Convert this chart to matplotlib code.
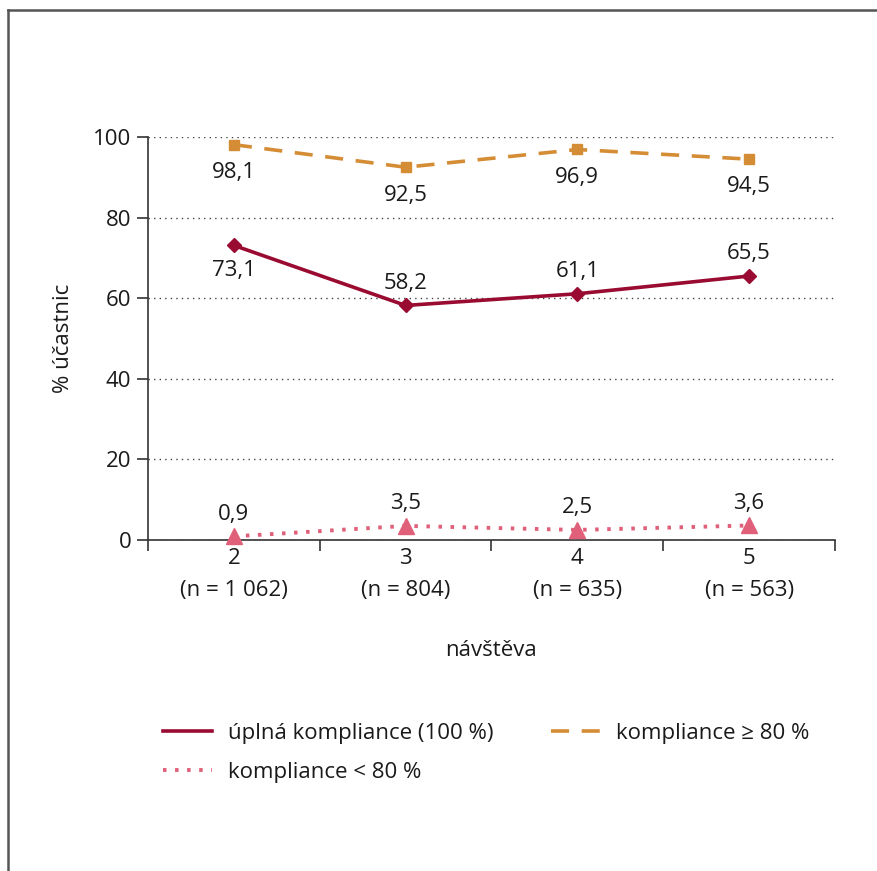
import matplotlib
matplotlib.use("Agg")
import matplotlib.pyplot as plt
from matplotlib.lines import Line2D

plt.rcParams['font.family'] = ['Open Sans', 'DejaVu Sans']

visits = [2, 3, 4, 5]
n_counts = ["1 062", "804", "635", "563"]
full = [73.1, 58.2, 61.1, 65.5]
ge80 = [98.1, 92.5, 96.9, 94.5]
lt80 = [0.9, 3.5, 2.5, 3.6]
series_names = ["úplná kompliance (100 %)", "kompliance < 80 %", "kompliance ≥ 80 %"]
yticks = [0, 20, 40, 60, 80, 100]

c_full = "#9a0b32"
c_ge = "#d58d35"
c_lt = "#e0607a"
txt = "#1a1a1a"
axc = "#333333"

W, H = 878, 871
fig = plt.figure(figsize=(W / 100, H / 100), dpi=100)
ax = fig.add_axes([148 / W, 1 - 540 / H, (835 - 148) / W, (540 - 137) / H])

fs = 16

l1, = ax.plot(visits, full, color=c_full, lw=2.6, marker="D", ms=7, clip_on=False, zorder=4)
l3, = ax.plot(visits, ge80, color=c_ge, lw=2.6, ls=(0, (5, 3.5)), marker="s", ms=7.5, clip_on=False, zorder=4)
l2, = ax.plot(visits, lt80, color=c_lt, lw=2.8, ls=(0, (0.9, 2.2)), marker="^", ms=11, clip_on=False, zorder=4)

def fmt(v):
    return f"{v:.1f}".replace(".", ",")

for x, v in zip(visits, ge80):
    ax.annotate(fmt(v), (x, v), xytext=(0, -20), textcoords="offset points",
                ha="center", va="center", fontsize=fs, color=txt)
for i, (x, v) in enumerate(zip(visits, full)):
    dy = -18 if i == 0 else 16
    ax.annotate(fmt(v), (x, v), xytext=(0, dy), textcoords="offset points",
                ha="center", va="center", fontsize=fs, color=txt)
for x, v in zip(visits, lt80):
    ax.annotate(fmt(v), (x, v), xytext=(0, 16), textcoords="offset points",
                ha="center", va="center", fontsize=fs, color=txt)

ax.set_xlim(1.5, 5.5)
ax.set_ylim(0, 100)
ax.set_yticks(yticks)
ax.set_yticklabels([str(t) for t in yticks], fontsize=fs, color=txt)
ax.set_xticks([1.5, 2.5, 3.5, 4.5, 5.5])
ax.set_xticklabels([])
ax.set_xticks(visits, minor=True)
ax.set_xticklabels([f"{v}\n(n = {n})" for v, n in zip(visits, n_counts)], minor=True,
                   fontsize=fs, color=txt, linespacing=1.65)
ax.tick_params(axis="x", which="major", direction="out", length=8, width=1.2, color=axc)
ax.tick_params(axis="x", which="minor", length=0, pad=6)
ax.tick_params(axis="y", direction="out", length=8, width=1.2, color=axc, pad=4)

for s in ["top", "right"]:
    ax.spines[s].set_visible(False)
for s in ["left", "bottom"]:
    ax.spines[s].set_color(axc)
    ax.spines[s].set_linewidth(1.2)

ax.yaxis.grid(True, linestyle=(0, (1, 3)), color="#444444", lw=1.0)
ax.set_axisbelow(True)

ax.set_ylabel("% účastnic", fontsize=fs, color=txt, labelpad=14)
ax.set_xlabel("návštěva", fontsize=fs, color=txt, labelpad=28)

leg = ax.legend([l1, l2, l3], series_names, loc="upper left",
                bbox_to_anchor=(163 / W, 1 - 723 / H), bbox_transform=fig.transFigure,
                ncol=2, frameon=False, fontsize=fs, handlelength=2.2, handletextpad=0.72,
                columnspacing=2.6, labelspacing=0.8, borderaxespad=0, borderpad=0)
for h in leg.legend_handles:
    h.set_marker("")
for t in leg.get_texts():
    t.set_color(txt)

fig.add_artist(Line2D([8 / W, 8 / W], [0, 1 - 10 / H], transform=fig.transFigure, color="#555555", lw=1.8))
fig.add_artist(Line2D([8 / W, 1], [1 - 10 / H, 1 - 10 / H], transform=fig.transFigure, color="#555555", lw=1.8))

fig.savefig("out.png", dpi=100)
